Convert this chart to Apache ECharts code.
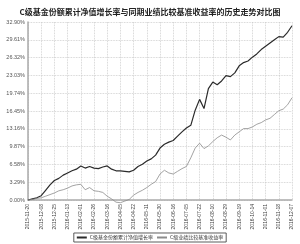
<!DOCTYPE html>
<html>
<head>
<meta charset="utf-8">
<script src="https://cdn.jsdelivr.net/npm/echarts@6/dist/echarts.min.js"></script>
<style>
  html, body { margin: 0; padding: 0; background: #fff; }
  #chart { width: 300px; height: 244px; }
</style>
</head>
<body>
<div id="chart"></div>
<script>
// 日期（每三个点一个刻度标签）
var dates = [
  '2015-11-20', '2015-11-26', '2015-12-02',
  '2015-12-08', '2015-12-14', '2015-12-19',
  '2015-12-25', '2015-12-31', '2016-01-07',
  '2016-01-13', '2016-01-19', '2016-01-26',
  '2016-02-01', '2016-02-16', '2016-02-22',
  '2016-02-26', '2016-03-03', '2016-03-10',
  '2016-03-16', '2016-03-23', '2016-03-30',
  '2016-04-05', '2016-04-11', '2016-04-17',
  '2016-04-22', '2016-04-28', '2016-05-05',
  '2016-05-11', '2016-05-17', '2016-05-24',
  '2016-05-30', '2016-06-06', '2016-06-10',
  '2016-06-16', '2016-06-22', '2016-06-29',
  '2016-07-05', '2016-07-11', '2016-07-17',
  '2016-07-22', '2016-07-28', '2016-08-04',
  '2016-08-10', '2016-08-16', '2016-08-23',
  '2016-08-29', '2016-09-05', '2016-09-12',
  '2016-09-19', '2016-09-27', '2016-10-10',
  '2016-10-14', '2016-10-20', '2016-10-26',
  '2016-11-01', '2016-11-07', '2016-11-13',
  '2016-11-18', '2016-11-24', '2016-11-30',
  '2016-12-07'
];

// C级基金份额累计净值增长率（%）
var fundGrowth = [
  0, 0.2, 0.4, 0.8, 1.8, 2.8, 3.6, 4.0, 4.6, 5.0,
  5.4, 5.7, 6.3, 5.9, 6.2, 5.9, 5.8, 6.1, 6.3, 5.7,
  5.4, 5.4, 5.3, 5.2, 5.5, 6.2, 6.6, 7.2, 7.6, 8.3,
  9.6, 10.3, 10.7, 11.0, 11.8, 12.6, 13.3, 13.8, 16.6, 18.6,
  16.9, 20.6, 21.8, 21.3, 22.0, 23.0, 22.8, 23.5, 24.8, 25.4,
  25.7, 26.4, 27.0, 27.8, 28.4, 29.0, 29.6, 30.2, 30.1, 31.0,
  32.2
];

// C级业绩比较基准收益率（%）
var benchmark = [
  0, 0.1, 0.3, 0.4, 0.7, 1.0, 1.3, 1.7, 1.9, 2.2,
  2.6, 2.8, 2.9, 1.9, 2.3, 1.7, 1.6, 1.4, 0.7, 0.2,
  -0.4, -0.5, -0.2, 0.1, 0.9, 1.4, 1.8, 2.3, 2.9, 3.4,
  4.8, 5.5, 5.0, 4.8, 5.3, 5.8, 6.2, 7.8, 9.6, 10.5,
  9.5, 10.0, 10.8, 11.5, 12.0, 11.6, 11.1, 12.0, 12.6, 13.2,
  13.2, 13.5, 14.0, 14.3, 14.8, 15.1, 15.8, 16.5, 16.8, 17.6,
  18.9
];

var yMax = 32.90;
var yStep = 3.29;

var myChart = echarts.init(document.getElementById('chart'));
var cjk = '"Noto Sans CJK SC", sans-serif';
var option = {
  animation: false,
  title: {
    text: 'C级基金份额累计净值增长率与同期业绩比较基准收益率的历史走势对比图',
    left: 'center',
    top: 3,
    textStyle: { fontSize: 8, fontWeight: 'bold', color: '#222', fontFamily: cjk }
  },
  legend: {
    bottom: 2,
    left: 'center',
    itemWidth: 10,
    itemHeight: 2,
    itemGap: 4,
    padding: [2, 3],
    borderColor: '#333',
    borderWidth: 0.8,
    icon: 'rect',
    textStyle: { fontSize: 5, color: '#333', fontFamily: cjk, padding: [0, 0, 0, -2] },
    data: ['C级基金份额累计净值增长率', 'C级业绩比较基准收益率']
  },
  grid: { left: 28, right: 8, top: 22, bottom: 44 },
  xAxis: {
    type: 'category',
    boundaryGap: false,
    data: dates,
    axisLine: { lineStyle: { color: '#aaa', width: 1.5 } },
    axisTick: { show: false },
    axisLabel: { rotate: 90, interval: 2, fontSize: 5, color: '#444', margin: 4 },
    splitLine: { show: true, interval: 2, lineStyle: { color: '#c8c8c8', type: 'dotted', width: 0.8 } }
  },
  yAxis: {
    type: 'value',
    min: 0,
    max: yMax,
    interval: yStep,
    axisLine: { show: true, lineStyle: { color: '#aaa', width: 1.5 } },
    axisTick: { show: false },
    axisLabel: {
      fontSize: 5.5, color: '#555', margin: 3,
      formatter: function (v) { return v.toFixed(2) + '%'; }
    },
    splitLine: { lineStyle: { color: '#c8c8c8', type: 'dotted', width: 0.8 } }
  },
  series: [
    {
      name: 'C级基金份额累计净值增长率',
      type: 'line',
      data: fundGrowth,
      symbol: 'none',
      clip: false,
      lineStyle: { color: '#2b2b2b', width: 1.2 },
      itemStyle: { color: '#2b2b2b' }
    },
    {
      name: 'C级业绩比较基准收益率',
      type: 'line',
      data: benchmark,
      symbol: 'none',
      clip: false,
      lineStyle: { color: '#8c8c8c', width: 0.8 },
      itemStyle: { color: '#8c8c8c' }
    }
  ]
};
myChart.setOption(option);
</script>
</body>
</html>
